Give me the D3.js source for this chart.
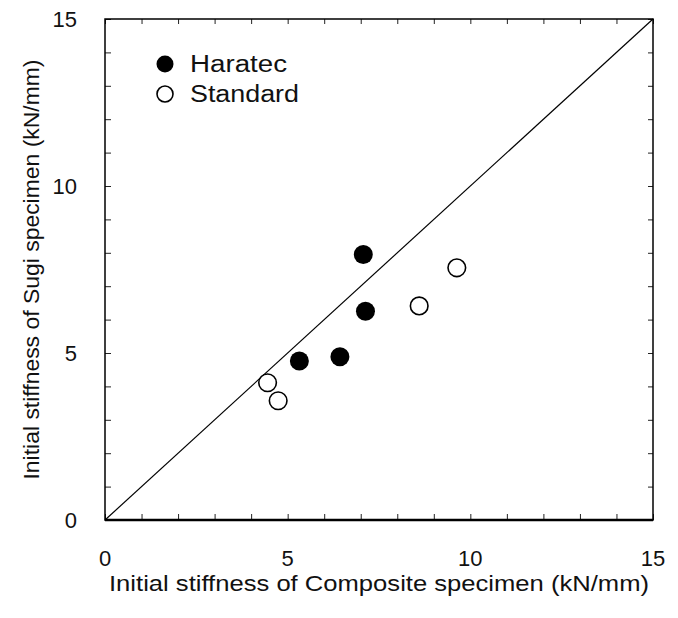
<!DOCTYPE html>
<html>
<head>
<meta charset="utf-8">
<script src="https://cdn.jsdelivr.net/npm/d3@7"></script>
<style>
  body { margin: 0; background: #fff; }
  text { font-family: "Liberation Sans", Arial, sans-serif; fill: #111; }
</style>
</head>
<body>
<svg id="chart" width="678" height="618"></svg>
<script>
// values (kN/mm)
const haratecX = [7.07, 7.13, 6.43, 5.32]
const haratecY = [7.95, 6.25, 4.89, 4.76]
const standardX = [9.63, 8.60, 4.45, 4.74]
const standardY = [7.55, 6.41, 4.11, 3.57]
const majorTicks = [0, 5, 10, 15]
const minorTicks = d3.range(0, 16)

const margin = {top: 19, right: 25, bottom: 98, left: 105}
const width = 678 - margin.left - margin.right
const height = 618 - margin.top - margin.bottom

const svg = d3.select("#chart")
const g = svg.append("g")
    .attr("transform", `translate(${margin.left},${margin.top})`)

const x = d3.scaleLinear().domain([0, 15]).range([0, width])
const y = d3.scaleLinear().domain([0, 15]).range([height, 0])

// inward minor ticks on all sides
g.append("g")
    .attr("transform", `translate(0,${height})`)
    .call(d3.axisBottom(x).tickValues(minorTicks).tickSize(-6).tickFormat(""))
    .call(a => a.select(".domain").remove())
g.append("g")
    .call(d3.axisTop(x).tickValues(minorTicks).tickSize(-5).tickFormat(""))
    .call(a => a.select(".domain").remove())
g.append("g")
    .call(d3.axisLeft(y).tickValues(minorTicks).tickSize(-6).tickFormat(""))
    .call(a => a.select(".domain").remove())
g.append("g")
    .attr("transform", `translate(${width},0)`)
    .call(d3.axisRight(y).tickValues(minorTicks).tickSize(-5).tickFormat(""))
    .call(a => a.select(".domain").remove())
g.selectAll(".tick line").attr("stroke", "#222").attr("stroke-width", 1)

// frame
g.append("rect")
    .attr("width", width)
    .attr("height", height)
    .attr("fill", "none")
    .attr("stroke", "#000")
    .attr("stroke-width", 1.5)
g.append("line")
    .attr("x1", 0).attr("x2", width)
    .attr("y1", height).attr("y2", height)
    .attr("stroke", "#000").attr("stroke-width", 2.5)

// tick labels
g.selectAll(".xlab")
    .data(majorTicks)
    .join("text")
    .attr("x", d => x(d))
    .attr("y", height + 46)
    .attr("text-anchor", "middle")
    .style("font-size", "22px")
    .text(d => d)
g.selectAll(".ylab")
    .data(majorTicks)
    .join("text")
    .attr("x", -28)
    .attr("y", d => y(d) + 8)
    .attr("text-anchor", "end")
    .style("font-size", "22px")
    .text(d => d)

// 1:1 line
g.append("line")
    .attr("x1", x(0)).attr("y1", y(0))
    .attr("x2", x(15)).attr("y2", y(15))
    .attr("stroke", "#000")
    .attr("stroke-width", 1.2)

const haratec = haratecX.map((v, i) => ({x: v, y: haratecY[i]}))
const standard = standardX.map((v, i) => ({x: v, y: standardY[i]}))

g.selectAll(".har")
    .data(haratec)
    .join("circle")
    .attr("cx", d => x(d.x))
    .attr("cy", d => y(d.y))
    .attr("r", 9.5)
    .attr("fill", "#000")
g.selectAll(".std")
    .data(standard)
    .join("circle")
    .attr("cx", d => x(d.x))
    .attr("cy", d => y(d.y))
    .attr("r", 8.8)
    .attr("fill", "#fff")
    .attr("stroke", "#000")
    .attr("stroke-width", 1.6)

// legend
const legend = g.append("g").attr("transform", "translate(60,45)")
legend.append("circle").attr("cx", 0).attr("cy", 0).attr("r", 8.5).attr("fill", "#000")
legend.append("text").attr("x", 25).attr("y", 8).style("font-size", "23px")
    .attr("textLength", 97).attr("lengthAdjust", "spacingAndGlyphs").text("Haratec")
legend.append("circle").attr("cx", 0).attr("cy", 30).attr("r", 8)
    .attr("fill", "#fff").attr("stroke", "#000").attr("stroke-width", 1.6)
legend.append("text").attr("x", 25).attr("y", 38).style("font-size", "23px")
    .attr("textLength", 109).attr("lengthAdjust", "spacingAndGlyphs").text("Standard")

// axis titles
svg.append("text")
    .attr("x", margin.left + width / 2)
    .attr("y", 591)
    .attr("text-anchor", "middle")
    .style("font-size", "22px")
    .attr("textLength", 540).attr("lengthAdjust", "spacingAndGlyphs")
    .text("Initial stiffness of Composite specimen (kN/mm)")
svg.append("text")
    .attr("transform", `translate(39,${margin.top + height / 2}) rotate(-90)`)
    .attr("text-anchor", "middle")
    .style("font-size", "22px")
    .attr("textLength", 420).attr("lengthAdjust", "spacingAndGlyphs")
    .text("Initial stiffness of Sugi specimen (kN/mm)")
</script>
</body>
</html>
